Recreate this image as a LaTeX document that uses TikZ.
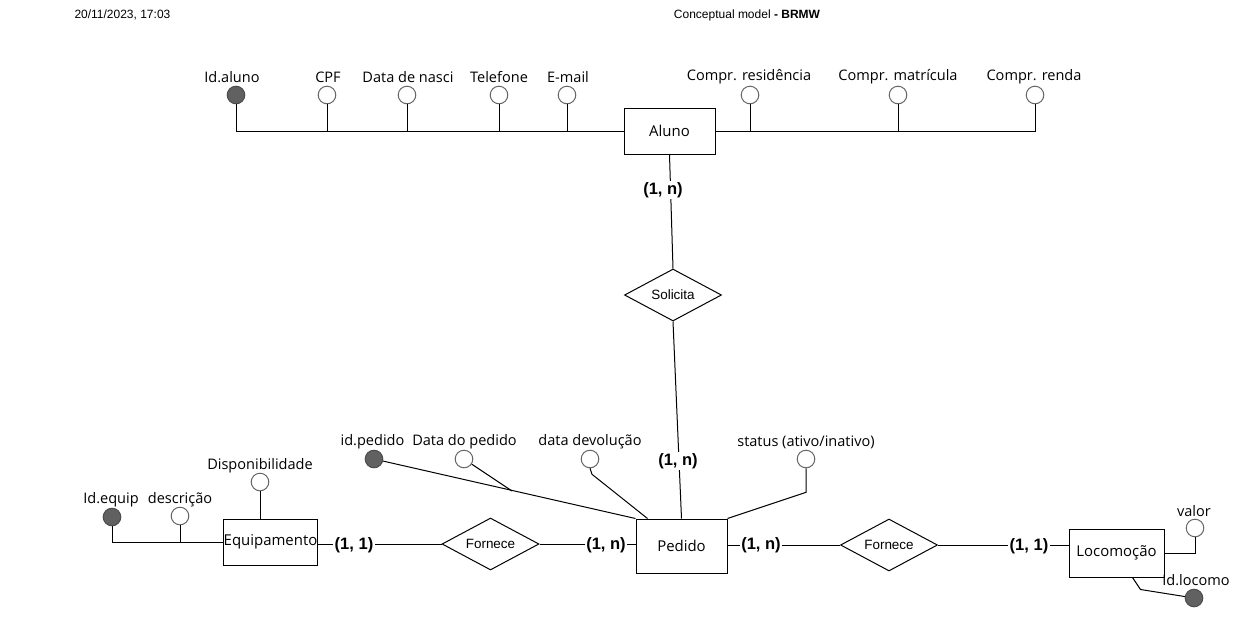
\documentclass[tikz,border=0pt]{standalone}
\usepackage{fontspec}
\setmainfont{Open Sans}
\newfontfamily\arialf{Liberation Sans}
\usetikzlibrary{shapes.geometric,calc}
\begin{document}
\begin{tikzpicture}[x=0.75pt,y=-0.75pt,line width=0.75pt,
  attr/.style={circle,draw=black!60,fill=white,minimum size=13.2pt,inner sep=0pt},
  keyattr/.style={attr,fill=black!62,draw=black!70},
  atxt/.style={font=\fontsize{10.9}{12}\selectfont,inner sep=0pt},
  ent/.style={draw,rectangle,font=\fontsize{11.2}{12}\selectfont,inner sep=0pt},
  rel/.style={draw,diamond,aspect=1.87,inner sep=0pt,minimum width=72.75pt,minimum height=39pt,font=\arialf\fontsize{10.1}{11}\selectfont},
  card/.style={font=\arialf\bfseries\fontsize{12.4}{13}\selectfont,fill=white,inner sep=1pt},
  hdr/.style={font=\arialf\fontsize{9}{10}\selectfont,inner sep=0pt}]
\useasboundingbox (0,0) rectangle (1236,637);
% header
\node[hdr,anchor=west] (date) at (74,15) {20/11/2023, 17:03};
\node[hdr] (title) at (747,15) {Conceptual model \textbf{- BRMW}};
% entities
\node[ent,minimum width=68.25pt,minimum height=34.5pt] (aluno) at (669.5,131) {Aluno};
\node[ent,minimum width=68.25pt,minimum height=40.5pt] (pedido) at (681.5,546) {Pedido};
\node[ent,minimum width=69.75pt,minimum height=34.5pt] (equip) at (270.5,542) {Equipamento};
\node[ent,minimum width=71.25pt,minimum height=36pt] (loco) at (1116.5,553) {Locomoção};
% relationships
\node[rel] (sol) at (673,295) {Solicita};
\node[rel] (forn1) at (490.5,544) {Fornece};
\node[rel] (forn2) at (889,545) {Fornece};
% Aluno attributes
\node[keyattr] (ida) at (236,95) {};
\node[attr] (cpf) at (327,95) {};
\node[attr] (dn) at (407,95) {};
\node[attr] (tel) at (499,95) {};
\node[attr] (em) at (567,95) {};
\node[attr] (res) at (750,95) {};
\node[attr] (mat) at (898,95) {};
\node[attr] (ren) at (1035,95) {};
\node[atxt] (tida) at (232,77) {Id.aluno};
\node[atxt] (tcpf) at (328,77) {CPF};
\node[atxt] (tdn) at (408,77) {Data de nasci};
\node[atxt] (ttel) at (499,77) {Telefone};
\node[atxt] (tem) at (568,77) {E-mail};
\node[atxt] (tres) at (749,77) {Compr. residência};
\node[atxt] (tmat) at (898,77) {Compr. matrícula};
\node[atxt] (tren) at (1034,77) {Compr. renda};
\draw (ida.south) |- (aluno.west);
\foreach \n in {cpf,dn,tel,em} \draw (\n.south) -- (\n.south |- aluno.west);
\draw (aluno.east) -| (ren.south);
\foreach \n in {res,mat} \draw (\n.south) -- (\n.south |- aluno.east);
% Pedido attributes
\node[keyattr] (idp) at (374,459) {};
\node[attr] (dp) at (464,459) {};
\node[attr] (dd) at (590,459) {};
\node[attr] (st) at (806,459) {};
\node[atxt] (tidp) at (372.5,442) {id.pedido};
\node[atxt] (tdp) at (464.5,442) {Data do pedido};
\node[atxt] (tdd) at (590,442) {data devolução};
\node[atxt] (tst) at (806,442) {status (ativo/inativo)};
\coordinate (j1) at (512,491);
\coordinate (ddend) at ($(pedido.north west)+(12,0)$);
\draw (idp) -- (pedido.north west);
\draw (dp) -- (j1);
\draw (dd.south) -- ++(2,6) -- (ddend);
\draw (st.south) -- ++(0,24) -- (pedido.north east);
% Equipamento attributes
\node[keyattr] (ideq) at (112,517) {};
\node[attr] (desc) at (180,516) {};
\node[attr] (disp) at (260,482) {};
\node[atxt] (tideq) at (111,500) {Id.equip};
\node[atxt] (tdesc) at (180,500) {descrição};
\node[atxt] (tdisp) at (260,466) {Disponibilidade};
\draw (ideq.south) |- (equip.west);
\draw (desc.south) -- (desc.south |- equip.west);
\draw (disp.south) -- (disp.south |- equip.north);
% Locomocao attributes
\node[attr] (val) at (1195,528) {};
\node[keyattr] (idl) at (1194,598) {};
\node[atxt] (tval) at (1194,511) {valor};
\node[atxt] (tidl) at (1196,580) {Id.locomo};
\draw (val.south) |- (loco.east);
\draw ($(loco.south)+(16,0)$) -- ++(8,12) -- (idl);
% relationship lines
\draw (aluno.south) -- (sol.north);
\draw (sol.south) -- (pedido.north);
\node[card] (c1) at (663,190) {(1, n)};
\node[card] (c2) at (678,461) {(1, n)};
\draw (equip.east |- forn1.west) -- (forn1.west);
\draw (forn1.east) -- (forn1.east -| pedido.west);
\draw (pedido.east |- forn2.west) -- (forn2.west);
\draw (forn2.east) -- (forn2.east -| loco.west);
\node[card] (c3) at (354,545) {(1, 1)};
\node[card] (c4) at (606,545) {(1, n)};
\node[card] (c5) at (761,545) {(1, n)};
\node[card] (c6) at (1029,546) {(1, 1)};
\end{tikzpicture}
\end{document}
